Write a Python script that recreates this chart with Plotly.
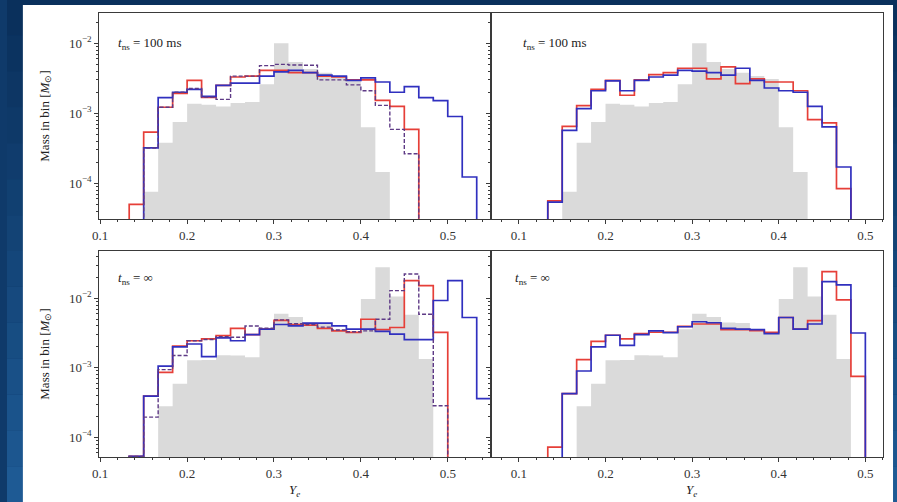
import plotly.graph_objects as go

# ---------------- data (bin edges are k/60) ----------------
BIN_DEN = 60

top_gray_k0 = 9
top_gray = [7.6e-5, 3.8e-4, 7.5e-4, 1.37e-3, 1.32e-3, 1.25e-3, 1.4e-3, 1.45e-3, 2.6e-3,
            1.0e-2, 5.4e-3, 4.3e-3, 3.8e-3, 3.4e-3, 3.1e-3, 6.3e-4, 1.45e-4]

tl_red_k0 = 8
tl_red = [5.0e-5, 5.4e-4, 1.22e-3, 1.93e-3, 2.96e-3, 1.69e-3, 2.5e-3, 3.3e-3, 3.4e-3, 4.1e-3,
          4.1e-3, 3.8e-3, 3.8e-3, 3.4e-3, 3.3e-3, 3.0e-3, 3.0e-3, 1.53e-3, 1.26e-3, 5.9e-4]
tl_blue_k0 = 9
tl_blue = [3.2e-4, 1.68e-3, 2.0e-3, 2.2e-3, 1.75e-3, 2.5e-3, 2.7e-3, 2.7e-3, 3.4e-3, 3.9e-3,
           4.1e-3, 3.8e-3, 3.5e-3, 3.4e-3, 2.96e-3, 3.2e-3, 2.8e-3, 2.0e-3, 2.4e-3, 1.67e-3,
           1.52e-3, 9.0e-4, 1.23e-4]
tl_dash_k0 = 9
tl_dash = [3.2e-4, 1.22e-3, 2.0e-3, 2.26e-3, 1.7e-3, 1.58e-3, 3.4e-3, 3.4e-3, 4.8e-3, 5.0e-3,
           4.9e-3, 4.85e-3, 3.0e-3, 3.0e-3, 2.55e-3, 2.1e-3, 1.3e-3, 5.9e-4, 2.65e-4]

tr_red_k0 = 8
tr_red = [5.6e-5, 6.5e-4, 1.29e-3, 2.2e-3, 2.96e-3, 1.81e-3, 3.0e-3, 3.57e-3, 3.8e-3, 4.4e-3,
          4.4e-3, 3.1e-3, 4.6e-3, 2.65e-3, 3.1e-3, 2.8e-3, 2.8e-3, 2.1e-3, 8.1e-4, 7.3e-4, 8.4e-5]
tr_blue_k0 = 8
tr_blue = [5.4e-5, 5.7e-4, 1.17e-3, 2.1e-3, 2.9e-3, 2.1e-3, 2.96e-3, 3.3e-3, 3.5e-3, 4.1e-3,
           4.0e-3, 3.8e-3, 3.5e-3, 4.4e-3, 2.96e-3, 2.3e-3, 2.1e-3, 2.0e-3, 1.26e-3, 6.4e-4, 1.71e-4]

bot_gray_k0 = 10
bot_gray = [2.8e-4, 5.9e-4, 1.28e-3, 1.3e-3, 1.52e-3, 1.5e-3, 1.42e-3, 3.6e-3, 6.0e-3, 5.4e-3,
            4.5e-3, 4.4e-3, 3.6e-3, 3.2e-3, 9.8e-3, 2.8e-2, 1.06e-2, 5.8e-3, 1.34e-3]

bl_blue_k0 = 8
bl_blue = [5.3e-5, 3.9e-4, 1.06e-3, 2.0e-3, 2.2e-3, 1.45e-3, 2.7e-3, 2.45e-3, 3.0e-3, 3.6e-3,
           4.2e-3, 4.0e-3, 4.4e-3, 4.4e-3, 4.0e-3, 3.6e-3, 3.6e-3, 3.35e-3, 3.05e-3, 2.55e-3,
           2.55e-3, 9.3e-3, 1.8e-2, 5.3e-3, 3.6e-4]
bl_red_k0 = 8
bl_red = [5.3e-5, 3.9e-4, 8.6e-4, 2.05e-3, 2.45e-3, 2.6e-3, 2.9e-3, 3.7e-3, 3.0e-3, 3.6e-3,
          4.8e-3, 4.2e-3, 4.1e-3, 3.7e-3, 3.4e-3, 3.24e-3, 5.0e-3, 3.55e-3, 3.8e-3, 1.8e-2,
          1.52e-2, 3.24e-3]
bl_dash_k0 = 8
bl_dash = [5.3e-5, 1.95e-4, 9.4e-4, 1.5e-3, 2.45e-3, 2.55e-3, 2.8e-3, 2.75e-3, 4.0e-3, 3.7e-3,
           4.9e-3, 4.3e-3, 4.2e-3, 3.85e-3, 3.5e-3, 3.3e-3, 3.4e-3, 5.0e-3, 1.29e-2, 2.24e-2,
           5.9e-3, 2.85e-4]

br_red_k0 = 8
br_red = [7.2e-5, 4.25e-4, 1.31e-3, 2.4e-3, 2.94e-3, 2.6e-3, 3.1e-3, 3.25e-3, 3.25e-3, 3.95e-3,
          4.27e-3, 4.27e-3, 3.55e-3, 3.55e-3, 3.43e-3, 3.24e-3, 5.3e-3, 3.6e-3, 4.78e-3, 2.42e-2,
          9.5e-3, 7.55e-4]
br_blue_k0 = 9
br_blue = [4.25e-4, 9.0e-4, 2.0e-3, 2.94e-3, 2.1e-3, 3.0e-3, 3.4e-3, 3.2e-3, 3.9e-3, 4.6e-3,
           4.45e-3, 3.7e-3, 3.6e-3, 3.55e-3, 3.1e-3, 5.3e-3, 3.6e-3, 4.27e-3, 1.74e-2, 1.56e-2, 3.17e-3]

x_ticks = [0.1, 0.2, 0.3, 0.4, 0.5]
y_ticks = [1e-4, 1e-3, 1e-2]
y_ticktext = ["10<sup>\u22124</sup>", "10<sup>\u22123</sup>", "10<sup>\u22122</sup>"]
label_top = "<i>t</i><sub>ns</sub> = 100 ms"
label_bot = "<i>t</i><sub>ns</sub> = \u221e"
ylabel = "Mass in bin [<i>M</i><sub>\u2299</sub>]"
xlabel = "<i>Y</i><sub><i>e</i></sub>"

# ---------------- styling ----------------
W, H = 897, 502
FLOOR = 1e-8
RED = "#e63f38"
BLUE = "#3030bf"
DASH = "#5e3a86"
GRAY = "#dadada"
FONT = "Liberation Serif"
FRAME = "#3a3a3a"


def step_xy(k0, vals):
    n = len(vals)
    edges = [(k0 + i) / BIN_DEN for i in range(n + 1)]
    xs = [edges[0]] + edges[:n] + [edges[n]]
    ys = [FLOOR] + list(vals) + [FLOOR]
    return xs, ys


fig = go.Figure()


def add_fill(k0, vals, ax):
    xs, ys = step_xy(k0, vals)
    fig.add_trace(go.Scatter(x=xs, y=ys, mode="lines", line=dict(width=0, shape="hv"),
                             fill="toself", fillcolor=GRAY, hoverinfo="skip",
                             xaxis="x" + ax, yaxis="y" + ax, showlegend=False))


def add_line(k0, vals, ax, color, dash="solid", width=1.7):
    xs, ys = step_xy(k0, vals)
    fig.add_trace(go.Scatter(x=xs, y=ys, mode="lines",
                             line=dict(color=color, width=width, shape="hv", dash=dash),
                             xaxis="x" + ax, yaxis="y" + ax, showlegend=False))


# top-left (axis "")
add_fill(top_gray_k0, top_gray, "")
add_line(tl_red_k0, tl_red, "", RED)
add_line(tl_blue_k0, tl_blue, "", BLUE)
add_line(tl_dash_k0, tl_dash, "", DASH, dash="4px,2px", width=1.4)
# top-right
add_fill(top_gray_k0, top_gray, "2")
add_line(tr_red_k0, tr_red, "2", RED)
add_line(tr_blue_k0, tr_blue, "2", BLUE)
# bottom-left
add_fill(bot_gray_k0, bot_gray, "3")
add_line(bl_red_k0, bl_red, "3", RED)
add_line(bl_blue_k0, bl_blue, "3", BLUE)
add_line(bl_dash_k0, bl_dash, "3", DASH, dash="4px,2px", width=1.4)
# bottom-right
add_fill(bot_gray_k0, bot_gray, "4")
add_line(br_red_k0, br_red, "4", RED)
add_line(br_blue_k0, br_blue, "4", BLUE)

# ---------------- layout ----------------
xl = [93 / W, 488 / W]
xr = [488 / W, 883 / W]
yt = [1 - 219.3 / H, 1 - 12.7 / H]
yb = [1 - 457.3 / H, 1 - 251 / H]

AX = dict(showline=True, mirror=True, linecolor=FRAME, linewidth=1, ticks="outside",
          ticklen=4, tickcolor=FRAME, showgrid=False, zeroline=False,
          tickfont=dict(family=FONT, size=13, color="#333"))

minor_y = []
for e in [1e-5, 1e-4, 1e-3, 1e-2]:
    for m in range(2, 10):
        minor_y.append(m * e)


def xaxis(dom, rng, anchor):
    d = dict(AX)
    d.update(domain=dom, range=rng, anchor=anchor, tickmode="array", tickvals=x_ticks,
             ticktext=[f"{v:.1f}" for v in x_ticks],
             minor=dict(dtick=0.02, tick0=0.0, ticks="outside", ticklen=2, tickcolor=FRAME))
    return d


def yaxis(dom, rng, anchor, labels):
    d = dict(AX)
    d.update(domain=dom, range=rng, anchor=anchor, type="log", tickmode="array",
             tickvals=y_ticks, ticktext=y_ticktext, showticklabels=labels,
             minor=dict(tickmode="array", tickvals=minor_y, ticks="outside", ticklen=2,
                        tickcolor=FRAME))
    return d


ytop_rng = [-4.514, -1.563]
ybot_rng = [-4.288, -1.319]
xleft_rng = [0.0989, 0.55]
xright_rng = [0.068, 0.5205]

shapes = []
# slide-like background: dark blue gradient bands, white card
bands = 14
for i in range(bands):
    t = i / (bands - 1)
    r = int(10 + t * (30 - 10))
    g = int(48 + t * (90 - 48))
    b = int(92 + t * (148 - 92))
    shapes.append(dict(type="rect", xref="paper", yref="paper", x0=0, x1=1,
                       y0=1 - (i + 1) / bands, y1=1 - i / bands,
                       fillcolor=f"rgb({r},{g},{b})", line=dict(width=0), layer="below"))
shapes.append(dict(type="rect", xref="paper", yref="paper", x0=16 / W, x1=893 / W,
                   y0=0, y1=1 - 5 / H, fillcolor="white", line=dict(width=0), layer="below"))

ann_font = dict(family=FONT, size=13, color="#222")
annotations = [
    dict(text=label_top, x=110 / W, y=1 - 43 / H, xref="paper", yref="paper",
         xanchor="left", yanchor="middle", showarrow=False, font=ann_font),
    dict(text=label_top, x=518 / W, y=1 - 43 / H, xref="paper", yref="paper",
         xanchor="left", yanchor="middle", showarrow=False, font=ann_font),
    dict(text=label_bot, x=110 / W, y=1 - 278 / H, xref="paper", yref="paper",
         xanchor="left", yanchor="middle", showarrow=False, font=ann_font),
    dict(text=label_bot, x=510 / W, y=1 - 278 / H, xref="paper", yref="paper",
         xanchor="left", yanchor="middle", showarrow=False, font=ann_font),
    dict(text=ylabel, x=38 / W, y=1 - 116 / H, xref="paper", yref="paper",
         xanchor="center", yanchor="middle", textangle=-90, showarrow=False, font=ann_font),
    dict(text=ylabel, x=38 / W, y=1 - 354 / H, xref="paper", yref="paper",
         xanchor="center", yanchor="middle", textangle=-90, showarrow=False, font=ann_font),
    dict(text=xlabel, x=290 / W, y=1 - 490 / H, xref="paper", yref="paper",
         xanchor="center", yanchor="middle", showarrow=False, font=ann_font),
    dict(text=xlabel, x=690 / W, y=1 - 490 / H, xref="paper", yref="paper",
         xanchor="center", yanchor="middle", showarrow=False, font=ann_font),
]

fig.update_layout(
    width=W, height=H, margin=dict(l=0, r=0, t=0, b=0),
    paper_bgcolor="#0f3a6a", plot_bgcolor="rgba(0,0,0,0)",
    xaxis=xaxis(xl, xleft_rng, "y"),
    yaxis=yaxis(yt, ytop_rng, "x", True),
    xaxis2=xaxis(xr, xright_rng, "y2"),
    yaxis2=yaxis(yt, ytop_rng, "x2", False),
    xaxis3=xaxis(xl, xleft_rng, "y3"),
    yaxis3=yaxis(yb, ybot_rng, "x3", True),
    xaxis4=xaxis(xr, xright_rng, "y4"),
    yaxis4=yaxis(yb, ybot_rng, "x4", False),
    shapes=shapes, annotations=annotations, showlegend=False,
)

fig.write_html("out.html")
